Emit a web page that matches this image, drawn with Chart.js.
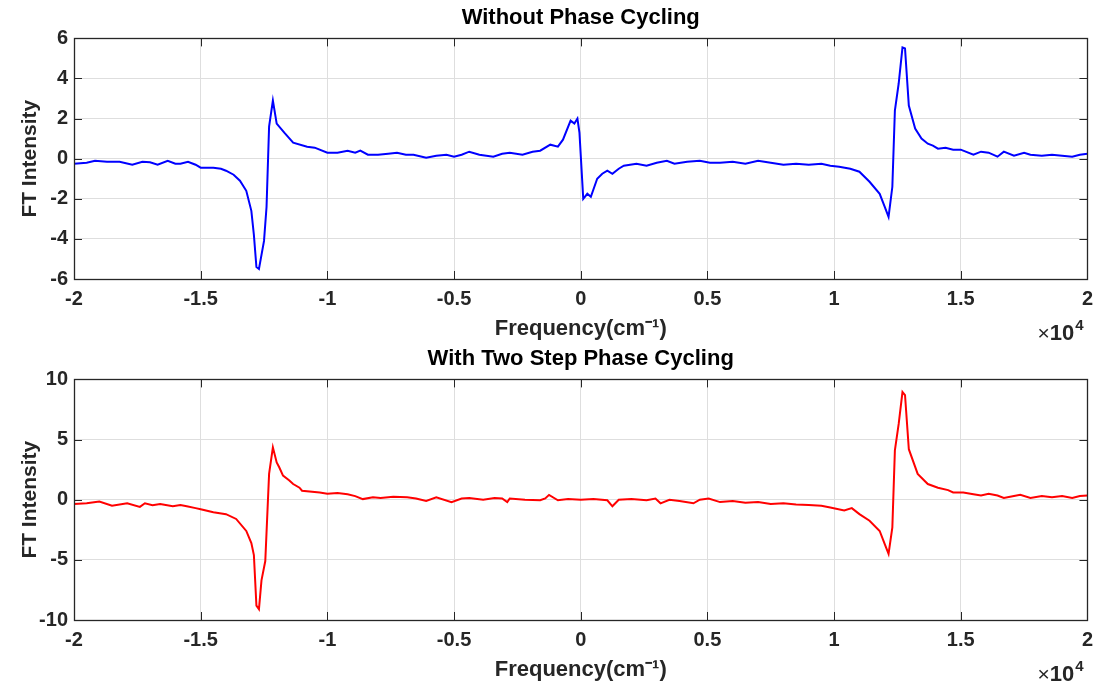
<!DOCTYPE html>
<html>
<head>
<meta charset="utf-8">
<title>FT Intensity</title>
<script src="https://cdn.jsdelivr.net/npm/chart.js@4.4.1/dist/chart.umd.min.js"></script>
<style>
  body { margin: 0; background: #fff; overflow: hidden; }
  canvas { position: absolute; left: 0; }
  #topChart { top: 0; }
  #bottomChart { top: 341px; }
</style>
</head>
<body>
<canvas id="topChart" width="1101" height="344"></canvas>
<canvas id="bottomChart" width="1101" height="344"></canvas>
<script>
// frequency in units of 1e4 cm^-1
var xTicks = [-2, -1.5, -1, -0.5, 0, 0.5, 1, 1.5, 2];
var yTicksTop = [-6, -4, -2, 0, 2, 4, 6];
var yTicksBottom = [-10, -5, 0, 5, 10];

// Without phase cycling
var freqTop = [
  -2.0, -1.95, -1.917, -1.87, -1.82, -1.77, -1.73, -1.70, -1.67, -1.63,
  -1.60, -1.58, -1.55, -1.52, -1.50, -1.45, -1.42, -1.40, -1.37, -1.345,
  -1.32, -1.30, -1.29, -1.28, -1.27, -1.25, -1.24, -1.23, -1.215, -1.20,
  -1.17, -1.135, -1.08, -1.05, -1.0, -0.96, -0.92, -0.89, -0.87, -0.84,
  -0.80, -0.76, -0.725, -0.69, -0.66, -0.61, -0.57, -0.53, -0.50, -0.47,
  -0.44, -0.40, -0.345, -0.31, -0.28, -0.23, -0.19, -0.16, -0.12, -0.09,
  -0.07, -0.04, -0.025, -0.013, -0.005, 0.01, 0.026, 0.04, 0.065, 0.085,
  0.105, 0.125, 0.15, 0.17, 0.22, 0.26, 0.30, 0.34, 0.37, 0.42,
  0.47, 0.51, 0.55, 0.60, 0.65, 0.70, 0.75, 0.80, 0.85, 0.90,
  0.95, 0.985, 1.02, 1.064, 1.10, 1.14, 1.18, 1.20, 1.215, 1.23,
  1.24, 1.255, 1.27, 1.28, 1.295, 1.32, 1.345, 1.37, 1.39, 1.41,
  1.44, 1.47, 1.50, 1.55, 1.58, 1.61, 1.645, 1.67, 1.71, 1.75,
  1.775, 1.82, 1.86, 1.90, 1.94, 1.97, 2.0
];
var intensityTop = [
  -0.25, -0.2, -0.1, -0.15, -0.15, -0.3, -0.15, -0.18, -0.3, -0.1,
  -0.25, -0.25, -0.15, -0.3, -0.45, -0.45, -0.5, -0.6, -0.8, -1.1,
  -1.6, -2.6, -3.8, -5.4, -5.5, -4.1, -2.4, 1.6, 2.9, 1.75,
  1.3, 0.8, 0.6, 0.55, 0.3, 0.3, 0.4, 0.3, 0.4, 0.2,
  0.2, 0.25, 0.3, 0.2, 0.2, 0.05, 0.15, 0.2, 0.1, 0.2,
  0.35, 0.2, 0.1, 0.25, 0.3, 0.2, 0.35, 0.4, 0.7, 0.6,
  0.95, 1.9, 1.75, 2.0, 1.3, -2.0, -1.75, -1.9, -1.0, -0.75,
  -0.6, -0.75, -0.5, -0.35, -0.25, -0.35, -0.2, -0.1, -0.25, -0.15,
  -0.1, -0.2, -0.2, -0.15, -0.25, -0.1, -0.2, -0.3, -0.25, -0.3,
  -0.25, -0.35, -0.4, -0.5, -0.65, -1.15, -1.75, -2.4, -2.9, -1.4,
  2.4, 3.75, 5.55, 5.5, 2.65, 1.5, 1.0, 0.75, 0.65, 0.5,
  0.55, 0.45, 0.45, 0.2, 0.35, 0.3, 0.1, 0.35, 0.15, 0.3,
  0.2, 0.15, 0.2, 0.15, 0.1, 0.2, 0.25
];

// With two step phase cycling
var freqBottom = [
  -2.0, -1.95, -1.9, -1.85, -1.79, -1.74, -1.72, -1.69, -1.66, -1.61,
  -1.58, -1.555, -1.52, -1.5, -1.45, -1.40, -1.36, -1.32, -1.30, -1.29,
  -1.28, -1.27, -1.26, -1.245, -1.23, -1.215, -1.20, -1.19, -1.175, -1.15,
  -1.135, -1.11, -1.10, -1.03, -1.0, -0.96, -0.92, -0.89, -0.86, -0.82,
  -0.79, -0.74, -0.685, -0.65, -0.61, -0.57, -0.51, -0.47, -0.44, -0.385,
  -0.34, -0.31, -0.29, -0.28, -0.22, -0.16, -0.14, -0.125, -0.09, -0.05,
  0.0, 0.05, 0.105, 0.125, 0.15, 0.2, 0.26, 0.295, 0.315, 0.35,
  0.39, 0.445, 0.47, 0.505, 0.55, 0.6, 0.65, 0.7, 0.75, 0.8,
  0.85, 0.9, 0.95, 0.985, 1.04, 1.07, 1.10, 1.14, 1.18, 1.20,
  1.215, 1.23, 1.24, 1.255, 1.27, 1.28, 1.295, 1.33, 1.37, 1.41,
  1.45, 1.47, 1.51, 1.55, 1.58, 1.61, 1.645, 1.67, 1.71, 1.735,
  1.775, 1.82, 1.86, 1.9, 1.94, 1.97, 2.0
];
var intensityBottom = [
  -0.35, -0.3, -0.15, -0.5, -0.3, -0.6, -0.3, -0.45, -0.35, -0.55,
  -0.45, -0.55, -0.7, -0.8, -1.05, -1.2, -1.6, -2.6, -3.6, -4.6,
  -8.8, -9.1, -6.7, -5.1, 2.15, 4.35, 3.1, 2.7, 2.0, 1.6,
  1.3, 1.0, 0.75, 0.6, 0.5, 0.55, 0.45, 0.3, 0.05, 0.2,
  0.15, 0.25, 0.2, 0.1, -0.1, 0.2, -0.2, 0.1, 0.15, 0.0,
  0.15, 0.1, -0.2, 0.1, 0.0, -0.05, 0.1, 0.4, -0.05, 0.05,
  0.0, 0.05, -0.05, -0.55, 0.0, 0.05, -0.05, 0.1, -0.3, 0.0,
  -0.1, -0.3, 0.0, 0.1, -0.2, -0.1, -0.25, -0.2, -0.35, -0.3,
  -0.4, -0.45, -0.5, -0.65, -0.9, -0.7, -1.2, -1.75, -2.6, -3.7,
  -4.5, -2.3, 4.1, 6.3, 8.95, 8.7, 4.2, 2.15, 1.3, 1.0,
  0.8, 0.6, 0.6, 0.45, 0.35, 0.5, 0.35, 0.15, 0.3, 0.4,
  0.15, 0.3, 0.2, 0.3, 0.15, 0.3, 0.35
];

var fontFamily = '"Liberation Sans", Arial, Helvetica, sans-serif';
var textColor = "#262626";

function toPoints(xs, ys) {
  return xs.map(function (x, i) { return { x: x, y: ys[i] }; });
}

// box around the plot, inward tick marks and the x10^4 exponent label
var framePlugin = {
  id: "frame",
  afterDraw: function (chart) {
    var ctx = chart.ctx;
    var a = chart.chartArea;
    var xs = chart.scales.x;
    var ys = chart.scales.y;
    var len = 8;
    ctx.save();
    ctx.strokeStyle = textColor;
    ctx.lineWidth = 1;
    ctx.beginPath();
    xs.ticks.forEach(function (t) {
      var px = Math.round(xs.getPixelForValue(t.value)) + 0.5;
      ctx.moveTo(px, a.bottom); ctx.lineTo(px, a.bottom - len);
      ctx.moveTo(px, a.top); ctx.lineTo(px, a.top + len);
    });
    ys.ticks.forEach(function (t) {
      var py = Math.round(ys.getPixelForValue(t.value)) + 0.5;
      ctx.moveTo(a.left, py); ctx.lineTo(a.left + len, py);
      ctx.moveTo(a.right, py); ctx.lineTo(a.right - len, py);
    });
    ctx.stroke();
    ctx.lineWidth = 1.3;
    ctx.strokeRect(Math.round(a.left) + 0.5, Math.round(a.top) + 0.5,
      Math.round(a.right - a.left), Math.round(a.bottom - a.top));

    // x10^4
    ctx.fillStyle = textColor;
    ctx.textBaseline = "alphabetic";
    ctx.textAlign = "left";
    var baseY = a.bottom + 61;
    var x = a.right - 50;
    ctx.font = "21px " + fontFamily;
    ctx.fillText("\u00d7", x, baseY);
    x += ctx.measureText("\u00d7").width;
    ctx.font = "bold 22px " + fontFamily;
    ctx.fillText("10", x, baseY);
    x += ctx.measureText("10").width;
    ctx.font = "bold 15px " + fontFamily;
    ctx.fillText("4", x + 1, baseY - 10);
    ctx.restore();
  }
};

function makeChart(id, title, xs, ys, color, yMin, yMax, yTicks) {
  return new Chart(document.getElementById(id).getContext("2d"), {
    type: "line",
    data: {
      datasets: [
        {
          data: toPoints(xs, ys),
          borderColor: color,
          borderWidth: 2,
          pointRadius: 0,
          tension: 0,
          fill: false,
        },
      ],
    },
    options: {
      responsive: false,
      animation: false,
      devicePixelRatio: 1,
      layout: { padding: { left: 0, right: 0, top: 0, bottom: 0 } },
      plugins: {
        legend: { display: false },
        tooltip: { enabled: false },
        title: {
          display: true,
          fullSize: false,
          text: title,
          color: "#000",
          font: { family: fontFamily, size: 22, weight: "bold" },
          padding: { top: 5, bottom: 7 },
        },
      },
      scales: {
        x: {
          type: "linear",
          min: -2,
          max: 2,
          afterBuildTicks: function (s) {
            s.ticks = xTicks.map(function (v) { return { value: v }; });
          },
          afterFit: function (s) { s.height = 65; },
          grid: { color: "#dedede", drawTicks: false },
          border: { display: false },
          ticks: {
            color: textColor,
            padding: 8,
            maxRotation: 0,
            font: { family: fontFamily, size: 20, weight: "bold" },
            callback: function (v) { return String(v); },
          },
          title: {
            display: true,
            text: "Frequency(cm\u207b\u00b9)",
            color: textColor,
            font: { family: fontFamily, size: 22, weight: "bold" },
            padding: { top: 0, bottom: 2 },
          },
        },
        y: {
          min: yMin,
          max: yMax,
          afterBuildTicks: function (s) {
            s.ticks = yTicks.map(function (v) { return { value: v }; });
          },
          afterFit: function (s) { s.width = 74; },
          grid: { color: "#dedede", drawTicks: false },
          border: { display: false },
          ticks: {
            color: textColor,
            padding: 6,
            font: { family: fontFamily, size: 20, weight: "bold" },
            callback: function (v) { return String(v); },
          },
          title: {
            display: true,
            text: "FT Intensity",
            color: textColor,
            font: { family: fontFamily, size: 21, weight: "bold" },
            padding: { top: 18, bottom: 0 },
          },
        },
      },
    },
    plugins: [framePlugin],
  });
}

var topChart = makeChart("topChart", "Without Phase Cycling", freqTop, intensityTop,
  "#0000ff", -6, 6, yTicksTop);
var bottomChart = makeChart("bottomChart", "With Two Step Phase Cycling", freqBottom, intensityBottom,
  "#ff0000", -10, 10, yTicksBottom);
</script>
</body>
</html>
